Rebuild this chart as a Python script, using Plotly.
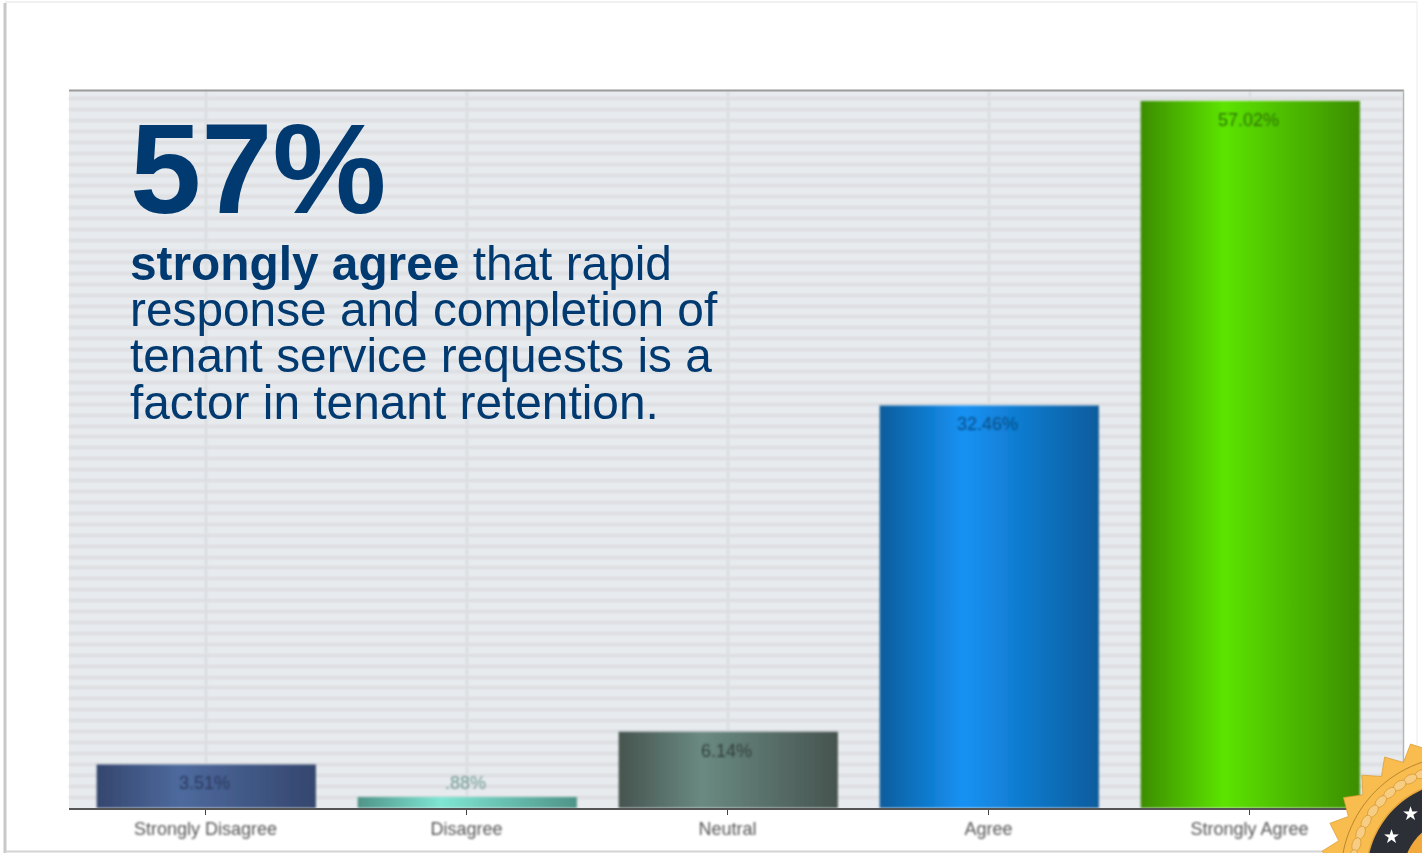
import numpy as np
import plotly.graph_objects as go

W, H = 1422, 853

# Survey results
categories = ["Strongly Disagree", "Disagree", "Neutral", "Agree", "Strongly Agree"]
shares = [3.51, 0.88, 6.14, 32.46, 57.02]
share_labels = ["3.51%", ".88%", "6.14%", "32.46%", "57.02%"]
label_colors = ["#2a3a5e", "#6f9a94", "#333f3c", "#0c4c82", "#2f7508"]
bar_edges = ["#34466e", "#4f9488", "#46544f", "#0d5c9c", "#3c8d05"]
bar_centers = ["#4e6a9e", "#7fe6d4", "#6a8a82", "#1492f4", "#5ce406"]

headline = "57%"
body_lines = [
    "<b>strongly agree</b> that rapid",
    "response and completion of",
    "tenant service requests is a",
    "factor in tenant retention.",
]
body_baselines = [280, 326, 372, 419]

BAR_HALF = 0.42
BAR_NUDGE = 0.003
GRID_STEP = 0.88
Y_MAX = 57.9
TICK_LEFT = 205.5
CAT_STEP = 261


def px(x):
    return x / W


def py(y):
    return 1 - y / H


fig = go.Figure()

for i, v in enumerate(shares):
    x0, x1 = i - BAR_HALF + BAR_NUDGE, i + BAR_HALF + BAR_NUDGE
    fig.add_trace(go.Scatter(
        x=[x0, x0, x1, x1, x0],
        y=[0, v, v, 0, 0],
        mode="lines",
        line=dict(width=0),
        fill="toself",
        fillgradient=dict(
            type="horizontal",
            colorscale=[[0, bar_edges[i]], [0.38, bar_centers[i]], [1, bar_edges[i]]],
        ),
        hoverinfo="skip",
        showlegend=False,
    ))

grid_vals = np.arange(0, Y_MAX, GRID_STEP)

fig.update_layout(
    width=W,
    height=H,
    margin=dict(l=0, r=0, t=0, b=0),
    paper_bgcolor="white",
    plot_bgcolor="#e8ebee",
    xaxis=dict(
        domain=[px(69), px(1403)],
        range=[(69 - TICK_LEFT) / CAT_STEP, (1403 - TICK_LEFT) / CAT_STEP],
        tickmode="array",
        tickvals=list(range(len(categories))),
        ticktext=categories,
        ticks="outside",
        ticklen=5,
        ticklabelstandoff=-2,
        tickcolor="#444",
        tickfont=dict(family="Liberation Sans", size=18, color="#555"),
        showgrid=True,
        gridcolor="#d8dadd",
        gridwidth=2,
        zeroline=False,
        showline=True,
        linecolor="#555",
        linewidth=2,
    ),
    yaxis=dict(
        domain=[py(808), py(90)],
        range=[0, Y_MAX],
        tickmode="array",
        tickvals=list(grid_vals),
        showticklabels=False,
        ticks="",
        showgrid=True,
        gridcolor="#dbdde0",
        gridwidth=2.5,
        zeroline=False,
    ),
    font=dict(family="Liberation Sans"),
)

# Value labels sit inside the top of each bar, or above it when the bar is too short
for i, v in enumerate(shares):
    fig.add_annotation(
        text=share_labels[i], x=i, y=v, xref="x", yref="y",
        xanchor="center", yanchor="middle", xshift=-1, yshift=14 if v < 1 else -19,
        showarrow=False,
        font=dict(family="Liberation Sans", size=18, color=label_colors[i]),
    )

# Frame of the plot area, top and right
fig.add_shape(type="line", xref="paper", yref="paper", x0=px(69), x1=px(1404),
              y0=py(90.5), y1=py(90.5), line=dict(color="#9a9a9a", width=2))
fig.add_shape(type="line", xref="paper", yref="paper", x0=px(1403.5), x1=px(1403.5),
              y0=py(90), y1=py(808), line=dict(color="#b4b6b8", width=1.5))

# Slide frame with a soft shadow on the left
fig.add_shape(type="line", xref="paper", yref="paper", x0=px(5), x1=px(5),
              y0=py(3), y1=py(853), line=dict(color="#c8c8c8", width=3))
fig.add_shape(type="line", xref="paper", yref="paper", x0=px(5), x1=px(1417),
              y0=py(2), y1=py(2), line=dict(color="#f0f0f0", width=2))
fig.add_shape(type="line", xref="paper", yref="paper", x0=px(5), x1=px(1422),
              y0=py(851.5), y1=py(851.5), line=dict(color="#d4d4d4", width=2))
fig.add_shape(type="line", xref="paper", yref="paper", x0=px(1417), x1=px(1417),
              y0=py(2), y1=py(853), line=dict(color="#ececec", width=1))

fig.add_annotation(
    text=f"<b>{headline}</b>", xref="paper", yref="paper",
    x=px(128), y=py(242), xanchor="left", yanchor="bottom", showarrow=False,
    font=dict(family="Liberation Sans", size=128, color="#003a70"),
)
for line, base in zip(body_lines, body_baselines):
    fig.add_annotation(
        text=line, xref="paper", yref="paper",
        x=px(128), y=py(base + 11.5), xanchor="left", yanchor="bottom", showarrow=False,
        font=dict(family="Liberation Sans", size=47.8, color="#003a70"),
    )


# Award seal in the lower right corner
def circle_path(cx, cy, r, n=120):
    t = np.linspace(0, 2 * np.pi, n, endpoint=False)
    pts = [(px(cx + r * np.cos(a)), py(cy + r * np.sin(a))) for a in t]
    return "M" + "L".join(f"{a:.5f},{b:.5f}" for a, b in pts) + "Z"


def bead_path(cx, cy, deg, length, width, n=24):
    # Ellipse whose long axis follows the tangent of the ring at this angle
    a = np.radians(deg)
    tx, ty = np.cos(a), -np.sin(a)
    rx, ry = -np.sin(a), -np.cos(a)
    pts = []
    for t in np.linspace(0, 2 * np.pi, n, endpoint=False):
        u, w = length * np.cos(t), width * np.sin(t)
        pts.append((px(cx + u * tx + w * rx), py(cy + u * ty + w * ry)))
    return "M" + "L".join(f"{p:.5f},{q:.5f}" for p, q in pts) + "Z"


def seal_path(cx, cy, r_out, r_in, step_deg, phase_deg):
    pts = []
    for k in range(int(360 / step_deg * 2)):
        a = np.radians(phase_deg + k * step_deg / 2)
        r = r_out if k % 2 == 0 else r_in
        pts.append((px(cx - r * np.sin(a)), py(cy - r * np.cos(a))))
    return "M" + "L".join(f"{a:.5f},{b:.5f}" for a, b in pts) + "Z"


CX, CY = 1460, 875
fig.add_shape(type="path", xref="paper", yref="paper",
              path=seal_path(CX, CY, 140, 126, 11.9, 20.7),
              fillcolor="#f9bc4e", line=dict(color="#d9982f", width=0.7))
fig.add_shape(type="path", xref="paper", yref="paper", path=circle_path(CX, CY, 119),
              fillcolor="#f9bc4e", line=dict(color="#b9862f", width=1))
for deg in np.arange(1, 90, 6.6):
    a = np.radians(deg)
    bx, by = CX - 108 * np.sin(a), CY - 108 * np.cos(a)
    fig.add_shape(type="path", xref="paper", yref="paper",
                  path=bead_path(bx, by, deg, 7, 4.2),
                  fillcolor="#f7cd84", line=dict(color="#cf922c", width=0.7))
fig.add_shape(type="path", xref="paper", yref="paper", path=circle_path(CX, CY, 94),
              fillcolor="#2c3036", line=dict(color="#e6a63c", width=1.5))
fig.add_shape(type="path", xref="paper", yref="paper", path=circle_path(CX, CY, 57),
              fillcolor="#f2a93b", line=dict(width=0))
for sx, sy in [(1410, 813), (1391, 836)]:
    fig.add_annotation(text="★", xref="paper", yref="paper", x=px(sx), y=py(sy),
                       xanchor="center", yanchor="middle", showarrow=False,
                       font=dict(family="DejaVu Sans", size=19, color="white"))

# The chart artwork is a slightly soft raster; the headline text stays crisp.
# A stylesheet rule survives any redraw of the elements it targets.
soften = """
var holder = document.createElement('div');
holder.innerHTML = '<svg width="0" height="0" style="position:absolute"><filter id="soft" x="-20%" y="-20%" width="140%" height="140%"><feGaussianBlur stdDeviation="0.8"/></filter></svg>';
document.body.appendChild(holder);
var rule = document.createElement('style');
var labels = [0, 1, 2, 3, 4].map(function (n) { return '.annotation[data-index="' + n + '"]'; }).join(', ');
rule.textContent = '.xtick text, .gridlayer, .scatterlayer, ' + labels + ' {filter: url(#soft);}';
document.head.appendChild(rule);
"""
fig.write_html("out.html", post_script=soften, config={"displayModeBar": False})
